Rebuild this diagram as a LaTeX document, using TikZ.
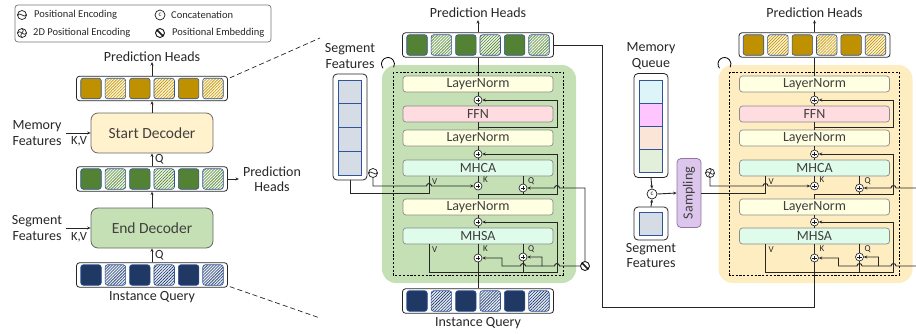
\documentclass[tikz,border=0pt]{standalone}
\usepackage{fontspec}
\setmainfont{Carlito}
\usetikzlibrary{patterns.meta,arrows.meta,calc}

\definecolor{gold}{HTML}{BF9000}
\definecolor{goldlt}{HTML}{FFF6DA}
\definecolor{grn}{HTML}{548235}
\definecolor{grnlt}{HTML}{EEF6E8}
\definecolor{navy}{HTML}{203864}
\definecolor{navylt}{HTML}{E6ECF7}
\definecolor{cellline}{HTML}{2F5597}
\definecolor{panelgrn}{HTML}{C5E0B4}
\definecolor{panelyel}{HTML}{FFEDC2}
\definecolor{lnfill}{HTML}{FFFFE1}
\definecolor{ffnfill}{HTML}{FFDCDF}
\definecolor{attfill}{HTML}{DFFBEA}
\definecolor{segcell}{HTML}{D6DCE5}
\definecolor{mqa}{HTML}{DDF5F9}
\definecolor{mqb}{HTML}{FFC5FF}
\definecolor{mqc}{HTML}{FBE5D6}
\definecolor{mqd}{HTML}{E2EFDA}
\definecolor{sampfill}{HTML}{DCC6EC}
\definecolor{sampline}{HTML}{9673A6}
\definecolor{startfill}{HTML}{FFF2CC}
\definecolor{endfill}{HTML}{C5E0B4}

\tikzset{
  wire/.style={draw=black!85, line width=0.9pt},
  tip/.style={-{Stealth[length=3.4pt,width=3pt]}},
  lbl/.style={text=black!85, font=\fontsize{14}{15.5}\selectfont, align=center, inner sep=0},
  leg/.style={text=black!85, font=\fontsize{10.5}{11}\selectfont, inner sep=0, anchor=west},
  small/.style={text=black!85, font=\fontsize{12.5}{13}\selectfont, inner sep=0},
  tiny/.style={text=black!85, font=\fontsize{9}{9}\selectfont, inner sep=0, anchor=west},
  block/.style={draw=black!45, rounded corners=3pt, line width=0.7pt, minimum width=150,
    minimum height=16, inner sep=0, text=black!75, font=\fontsize{14}{14}\selectfont},
  decbox/.style={draw=black!60, rounded corners=7pt, line width=0.8pt, minimum width=122,
    minimum height=40, inner sep=0, text=black!75, font=\fontsize{15.5}{16}\selectfont},
  barframe/.style={draw=black!85, fill=white, rounded corners=3pt, line width=0.8pt,
    minimum width=151, minimum height=24.5, inner sep=0},
  cell/.style={draw=cellline, rounded corners=2.5pt, line width=0.6pt, minimum size=20.5, inner sep=0},
  stackframe/.style={draw=black!85, fill=white, rounded corners=4pt, line width=0.8pt, inner sep=0},
  stackcell/.style={draw=cellline, line width=0.8pt, minimum width=23, inner sep=0},
  plus/.style={circle, draw=black!90, line width=0.6pt, fill=white, minimum size=8, inner sep=0,
    path picture={\draw[line width=0.6pt]
      ([xshift=-2.4pt]path picture bounding box.center) -- ([xshift=2.4pt]path picture bounding box.center)
      ([yshift=-2.4pt]path picture bounding box.center) -- ([yshift=2.4pt]path picture bounding box.center);}},
  posenc/.style={circle, draw=black!90, line width=0.7pt, fill=white, minimum size=9, inner sep=0,
    path picture={\draw[line width=0.7pt, shift={(path picture bounding box.center)}]
      (-4.5,1) .. controls (-1.5,-5) and (1.5,5) .. (4.5,-1);}},
  posemb/.style={circle, draw=black!90, line width=0.9pt, fill=white, minimum size=9, inner sep=0,
    path picture={\draw[line width=1.5pt, shift={(path picture bounding box.center)}]
      (-4.5,-2) .. controls (-1,-5) and (1,5) .. (4.5,2);}},
  posenctwo/.style={circle, draw=black!90, line width=0.7pt, fill=white, minimum size=9, inner sep=0,
    path picture={\draw[line width=0.6pt, shift={(path picture bounding box.center)}]
      (-4.5,0.5) .. controls (-1.5,-5) and (1.5,5) .. (4.5,-0.5)
      (-0.5,-4.5) .. controls (5,-1.5) and (-5,1.5) .. (0.5,4.5);}},
  concat/.style={circle, draw=black!90, line width=0.7pt, fill=white, minimum size=10, inner sep=0,
    text=black!85, font=\fontsize{7}{7}\selectfont},
}

% a row of six query cells: solid and hatched in turn
\newcommand{\CellBar}[5]{%
  \node[barframe] (#1) at (#2,#3) {};
  \foreach \k in {0,2,4}
    \node[cell, fill=#4] (#1c\k) at ({#2-61+24.4*\k},#3) {};
  \foreach \k in {1,3,5}
    \node[cell, preaction={fill=#5},
      pattern={Lines[angle=45, distance=2.1pt, line width=0.6pt]}, pattern color=#4]
      (#1c\k) at ({#2-61+24.4*\k},#3) {};
}

% one decoder layer: MHSA, MHCA and FFN with their sums and norms
\newcommand{\DecStack}[3]{%
  \fill[#3, rounded corners=14pt] ({#2-96},65) rectangle ({#2+98},283);
  \draw[line width=0.8pt, dash pattern=on 2.2pt off 1.6pt] ({#2-85},72) rectangle ({#2+85},275);
  \draw[line width=0.8pt] ({#2-90+6.5*cos(140)},{64+6.5*sin(140)}) arc[start angle=140, end angle=390, radius=6.5];
  \node[block, fill=lnfill] (#1ln1) at (#2,84) {LayerNorm};
  \node[block, fill=ffnfill] (#1ffn) at (#2,114) {FFN};
  \node[block, fill=lnfill] (#1ln2) at (#2,138) {LayerNorm};
  \node[block, fill=attfill] (#1mhca) at (#2,168) {MHCA};
  \node[block, fill=lnfill] (#1ln3) at (#2,207) {LayerNorm};
  \node[block, fill=attfill] (#1mhsa) at (#2,236) {MHSA};
  \node[plus] (#1pA) at (#2,100) {};
  \node[plus] (#1pB) at (#2,154) {};
  \node[plus] (#1pK1) at (#2,186) {};
  \node[plus] (#1pQ1) at ({#2+45},188) {};
  \node[plus] (#1pC) at (#2,222) {};
  \node[plus] (#1pK2) at (#2,258) {};
  \node[plus] (#1pQ2) at ({#2+45},257) {};
  \draw[wire] (#1ln1.south) -- (#1pA.north);
  \draw[wire] (#1pA.south) -- (#1ffn.north);
  \draw[wire] (#1ffn.south) -- (#1ln2.north);
  \draw[wire] (#1ln2.south) -- (#1pB.north);
  \draw[wire] (#1pB.south) -- (#1mhca.north);
  \draw[wire] (#1mhca.south) -- (#1pK1.north);
  \draw[wire] (#1ln3.south) -- (#1pC.north);
  \draw[wire] (#1pC.south) -- (#1mhsa.north);
  \draw[wire] (#1mhsa.south) -- (#1pK2.north);
  % FFN residual
  \coordinate (#1rA) at (#2,127);
  \draw[wire,tip] (#1rA) -| ({#2+79},100) -- (#1pA.east);
  % MHCA residual and query input
  \draw[wire,tip] (#1ln3.north) -- (#2,194) -| ({#2+79},154) -- (#1pB.east);
  \draw[wire] (#1mhca.south -| #1pQ1) -- (#1pQ1.north);
  \draw[wire] (#1pQ1.south) -- ({#2+45},194);
  % query positional embedding
  \node[posemb] (#1qpe) at ({#2+107},266) {};
  \draw[wire,tip] (#1qpe.north) |- ({#2+81.5},188) arc[start angle=0, end angle=-180, radius=2.5] -- (#1pQ1.east);
  \draw[wire,tip] (#1qpe.west) -- ({#2+81.5},266) arc[start angle=0, end angle=-180, radius=2.5]
    -- ({#2+64},266) |- (#1pQ2.east);
  \draw[wire,tip] ({#2+64},266) -- ({#2+47.5},266) arc[start angle=0, end angle=-180, radius=2.5]
    -- ({#2+24},266) |- (#1pK2.east);
  % MHSA query, value and residual
  \draw[wire] (#1mhsa.south -| #1pQ2) -- (#1pQ2.north);
  \draw[wire] (#1pQ2.south) -- ({#2+45},272);
  \draw[wire,tip] ({#2-49},244) -- ({#2-49},272) -| ({#2+79},222) -- (#1pC.east);
  % port labels
  \node[tiny] (#1lv1) at ({#2-46},182) {V};
  \node[tiny] (#1lk1) at ({#2+5},180) {K};
  \node[tiny] (#1lq1) at ({#2+50},181) {Q};
  \node[tiny] (#1lv2) at ({#2-46},250) {V};
  \node[tiny] (#1lk2) at ({#2+5},249) {K};
  \node[tiny] (#1lq2) at ({#2+50},249) {Q};
}

\begin{document}
\begin{tikzpicture}[x=1pt,y=-1pt]
\useasboundingbox (0,0) rectangle (916,333);
\clip (0,0) rectangle (916,333);

% ---------- legend ----------
\node[draw=black!55, rounded corners=3pt, line width=0.7pt, minimum width=256, minimum height=37, inner sep=0] (legend) at (143,23.5) {};
\node[posenc] (lgpe) at (22,15) {};
\node[leg] (lgpet) at (34,15) {Positional Encoding};
\node[posenctwo] (lgpt) at (22,33) {};
\node[leg] (lgptt) at (33,33) {2D Positional Encoding};
\node[concat] (lgcat) at (160,15) {c};
\node[leg] (lgcatt) at (171,15) {Concatenation};
\node[posemb] (lgemb) at (160,33) {};
\node[leg] (lgembt) at (172,33) {Positional Embedding};

% ---------- overview ----------
\node[lbl] (phL) at (152,57) {Prediction Heads};
\CellBar{barLa}{152}{88.5}{gold}{goldlt}
\node[decbox, fill=startfill] (startdec) at (152,133) {Start Decoder};
\CellBar{barLb}{152}{179}{grn}{grnlt}
\node[decbox, fill=endfill] (enddec) at (152,228) {End Decoder};
\CellBar{barLc}{152}{275}{navy}{navylt}
\node[lbl] (iqL) at (152,297) {Instance Query};
\node[lbl] (memL) at (37,133) {Memory\\Features};
\node[lbl] (segL) at (37,228) {Segment\\Features};
\node[lbl] (phL2) at (272,179) {Prediction\\Heads};
\node[small] (kvA) at (79,141.5) {K,V};
\node[small] (kvB) at (79,237.5) {K,V};
\node[small, anchor=west] (qA) at (155,159) {Q};
\node[small, anchor=west] (qB) at (155,255) {Q};

\draw[wire,tip] (barLa.north) -- (phL.south);
\draw[wire,tip] (startdec.north) -- (barLa.south);
\draw[wire,tip] (barLb.north) -- (startdec.south);
\draw[wire,tip] (enddec.north) -- (barLb.south);
\draw[wire,tip] (barLc.north) -- (enddec.south);
\draw[wire,tip, shorten >=4pt] (barLb.east) -- (phL2.west);
\draw[wire,tip] ([xshift=4pt]memL.east) -- (startdec.west);
\draw[wire,tip] ([xshift=4pt]segL.east) -- (enddec.west);

\coordinate (zoomtop) at (320,38);
\coordinate (zoombot) at (320,318);
\draw[black!85, line width=0.7pt, dash pattern=on 5pt off 3pt] ([xshift=2pt,yshift=-2pt]barLa.north east) -- (zoomtop);
\draw[black!85, line width=0.7pt, dash pattern=on 5pt off 3pt] ([xshift=2pt,yshift=1pt]barLc.south east) -- (zoombot);

% ---------- end decoder ----------
\DecStack{m}{478}{panelgrn}
\node[lbl] (phM) at (478,13) {Prediction Heads};
\CellBar{barMa}{478}{45}{grn}{grnlt}
\CellBar{barMb}{478}{301}{navy}{navylt}
\node[lbl] (iqM) at (478,323) {Instance Query};
\draw[wire] (mln1.north) -- (barMa.south);
\draw[wire,tip, shorten >=2pt] (barMa.north) -- (phM.south);
\draw[wire] (barMb.north) -- (mpK2.south);

\node[lbl] (segMt) at (350,56) {Segment\\Features};
\node[stackframe, minimum width=34, minimum height=106] (segM) at (350,127) {};
\foreach \k in {0,1,2,3}
  \node[stackcell, fill=segcell, minimum height=23.75] (segMc\k) at (350,{91.9+23.75*\k}) {};
\node[posenc] (peM) at (373,173) {};
\draw[wire] (segM.south) |- (429,193) -- (429,176);
\draw[wire,tip] (peM.south) |- (426.5,186) arc[start angle=180, end angle=360, radius=2.5] -- (mpK1.west);

% ---------- start decoder ----------
\DecStack{r}{814.5}{panelyel}
\node[lbl] (phR) at (814.5,13) {Prediction Heads};
\CellBar{barRa}{814.5}{45}{gold}{goldlt}
\draw[wire] (rln1.north) -- (barRa.south);
\draw[wire,tip, shorten >=2pt] (barRa.north) -- (phR.south);
\draw[wire] (barMa.east) -- (602,45) -- (602,307) -| (rpK2.south);

\node[lbl] (mqt) at (651,56) {Memory\\Queue};
\node[stackframe, minimum width=34, minimum height=104] (mqbox) at (651,125.5) {};
\node[stackcell, fill=mqa, minimum height=23] (mqc0) at (650.5,91.5) {};
\node[stackcell, fill=mqb, minimum height=23] (mqc1) at (650.5,114.5) {};
\node[stackcell, fill=mqc, minimum height=23] (mqc2) at (650.5,137.5) {};
\node[stackcell, fill=mqd, minimum height=23] (mqc3) at (650.5,160.5) {};
\node[concat] (cat) at (652,194) {c};
\node[stackframe, minimum width=34, minimum height=33] (segR) at (651,223.5) {};
\node[stackcell, fill=segcell, minimum height=23] (segRc) at (650.5,223.5) {};
\node[lbl] (segRt) at (651,255.5) {Segment\\Features};
\node[draw=sampline, fill=sampfill, rounded corners=4pt, line width=0.8pt, minimum width=24, minimum height=69, inner sep=0] (samp) at (689,193) {};
\node[lbl, text=black!75, rotate=90] (sampt) at (samp.center) {Sampling};
\node[posenctwo] (peR) at (710,173) {};

\draw[wire,tip] (mqbox.south) -- (cat.north);
\draw[wire,tip] (segR.north) -- (cat.south);
\draw[wire,tip] (cat.east) -- (samp.west);
\draw[wire] (samp.east) -| (765.5,176);
\draw[wire,tip] (peR.south) |- (763,186) arc[start angle=180, end angle=360, radius=2.5] -- (rpK1.west);
\end{tikzpicture}
\end{document}
